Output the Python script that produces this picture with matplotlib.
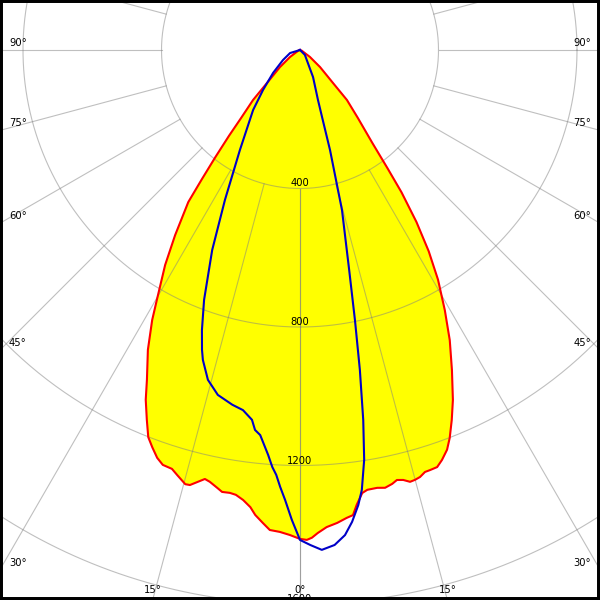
import numpy as np
import matplotlib
matplotlib.use("Agg")
import matplotlib.pyplot as plt

# Luminous intensity curves (cd) against gamma angle (deg, 0 = straight down)
# red curve: C180 plane on the left, C0 plane on the right
red_left_gamma = [0, 1.2, 2.4, 3.6, 4.5, 5.5, 6.2, 7.2, 8.2, 9.0, 10.0, 10.7, 11.8, 12.5,
                  13.4, 14.2, 14.8, 16.1, 17.0, 18.3, 19.3, 20.4, 21.4, 22.5, 23.8, 24.9,
                  26.9, 28.7, 29.8, 32.1, 34.0, 36.3, 37.2, 38.3, 39.6, 40.9, 43.2, 45.0,
                  49.6, 55.0, 70, 90]
red_left_cd = [1412, 1401, 1393, 1389, 1370, 1349, 1328, 1310, 1298, 1295, 1296, 1287, 1274, 1269,
               1283, 1296, 1297, 1278, 1265, 1262, 1248, 1224, 1201, 1156, 1104, 1050,
               971, 889, 832, 733, 645, 545, 470, 395, 322, 260, 198, 135,
               76, 35, 5, 0]
red_right_gamma = [0, 0.8, 1.4, 2.1, 3.2, 4.5, 5.7, 6.5, 7.1, 8.0, 8.7, 10.0, 11.0, 12.0,
                   12.7, 13.5, 14.3, 15.0, 15.7, 16.5, 17.2, 18.2, 19.1, 20.2, 21.1, 22.3,
                   23.6, 25.4, 27.3, 29.1, 31.0, 32.6, 34.1, 35.5, 36.5, 37.9, 40.4, 43.2,
                   45.0, 49.6, 55.0, 70, 90]
red_right_cd = [1412, 1415, 1409, 1396, 1380, 1370, 1358, 1352, 1324, 1292, 1285, 1284, 1288, 1281,
                1273, 1277, 1287, 1285, 1281, 1271, 1270, 1268, 1253, 1230, 1201, 1155,
                1103, 1023, 943, 860, 774, 690, 600, 505, 425, 340, 258, 198,
                135, 76, 35, 5, 0]

# blue curve: C270 plane on the left, C90 plane on the right
blue_left_gamma = [0, 1.0, 1.9, 2.6, 3.2, 3.8, 4.5, 5.9, 6.75, 7.4, 9.0, 10.8, 13.4, 15.6,
                   17.4, 18.1, 19.3, 21.0, 23.7, 26.6, 31.0, 38.0, 42.8, 49.6, 59.5, 73, 90]
blue_left_cd = [1415, 1357, 1300, 1263, 1229, 1207, 1173, 1118, 1105, 1077, 1053, 1043, 1024, 989,
                938, 911, 857, 773, 631, 484, 337, 220, 157, 102, 57, 30, 0]
blue_right_gamma = [0, 1.2, 2.5, 4.0, 5.3, 6.3, 7.3, 8.0, 8.9, 9.7, 10.6, 11.5, 12.6, 14.7,
                    16.7, 18.2, 19.8, 25.7, 45, 90]
blue_right_cd = [1415, 1430, 1445, 1433, 1407, 1371, 1325, 1283, 1198, 1084, 940, 796, 651, 478,
                 302, 204, 153, 87, 20, 0]

ring_values = [400, 800, 1200, 1600]
angle_ticks = [0, 15, 30, 45, 60, 75, 90]

PX = 400 / 138.5  # cd per pixel
CX, CY = 300, 50  # pixel position of the luminaire


def to_xy(gamma, cd, side):
    g = np.radians(gamma)
    cd = np.asarray(cd, dtype=float)
    return side * cd * np.sin(g), -cd * np.cos(g)


def px(x, y):
    return (x - CX) * PX, (CY - y) * PX


def join(lg, lc, rg, rc):
    xl, yl = to_xy(lg, lc, -1)
    xr, yr = to_xy(rg, rc, 1)
    return np.concatenate([xl[::-1], xr[1:]]), np.concatenate([yl[::-1], yr[1:]])


fig = plt.figure(figsize=(6, 6), dpi=100)
ax = fig.add_axes([0, 0, 1, 1])
ax.set_xlim(-CX * PX, (600 - CX) * PX)
ax.set_ylim(-(600 - CY) * PX, CY * PX)
ax.set_xticks([])
ax.set_yticks([])
for s in ax.spines.values():
    s.set_linewidth(4.3)
    s.set_color("black")

rx, ry = join(red_left_gamma, red_left_cd, red_right_gamma, red_right_cd)
bx, by = join(blue_left_gamma, blue_left_cd, blue_right_gamma, blue_right_cd)

ax.fill(rx, ry, color="#ffff00", lw=0, zorder=1)

# grid
grid_kw = dict(color="#808080", lw=0.8, alpha=0.5, zorder=2)
t = np.linspace(0, 2 * np.pi, 721)
for r in ring_values:
    ax.plot(r * np.cos(t), r * np.sin(t), **grid_kw)
for a in range(0, 181, 15):
    g = np.radians(a)
    for side in (-1, 1):
        ax.plot([side * 400 * np.sin(g), side * 4000 * np.sin(g)],
                [-400 * np.cos(g), -4000 * np.cos(g)], **grid_kw)

ax.plot(rx, ry, color="#ff0000", lw=1.5, zorder=3)
ax.plot(bx, by, color="#0000c8", lw=1.5, zorder=4)

# ring labels
for r in ring_values:
    ax.text(0, -r, str(r), ha="center", va="bottom", fontsize=7.2, zorder=5)

# angle labels at the picture edge
for a in angle_ticks:
    g = np.radians(a)
    t_side = (CX / np.sin(g)) if a > 0 else np.inf
    t_bot = (600 - CY) / np.cos(g) if a < 90 else np.inf
    for side in ((-1, 1) if a > 0 else (1,)):
        if t_side < t_bot:
            y = CY + t_side * np.cos(g)
            x = 9 if side < 0 else 591
            xd, yd = px(x, y - 2)
            ax.text(xd, yd, f"{a}°", ha="left" if side < 0 else "right",
                    va="bottom", fontsize=7.2, zorder=5)
        else:
            x = CX + side * t_bot * np.sin(g)
            xd, yd = px(x, 595)
            ax.text(xd, yd, f"{a}°", ha="center", va="bottom", fontsize=7.2, zorder=5)

fig.savefig("out.png", dpi=100)
